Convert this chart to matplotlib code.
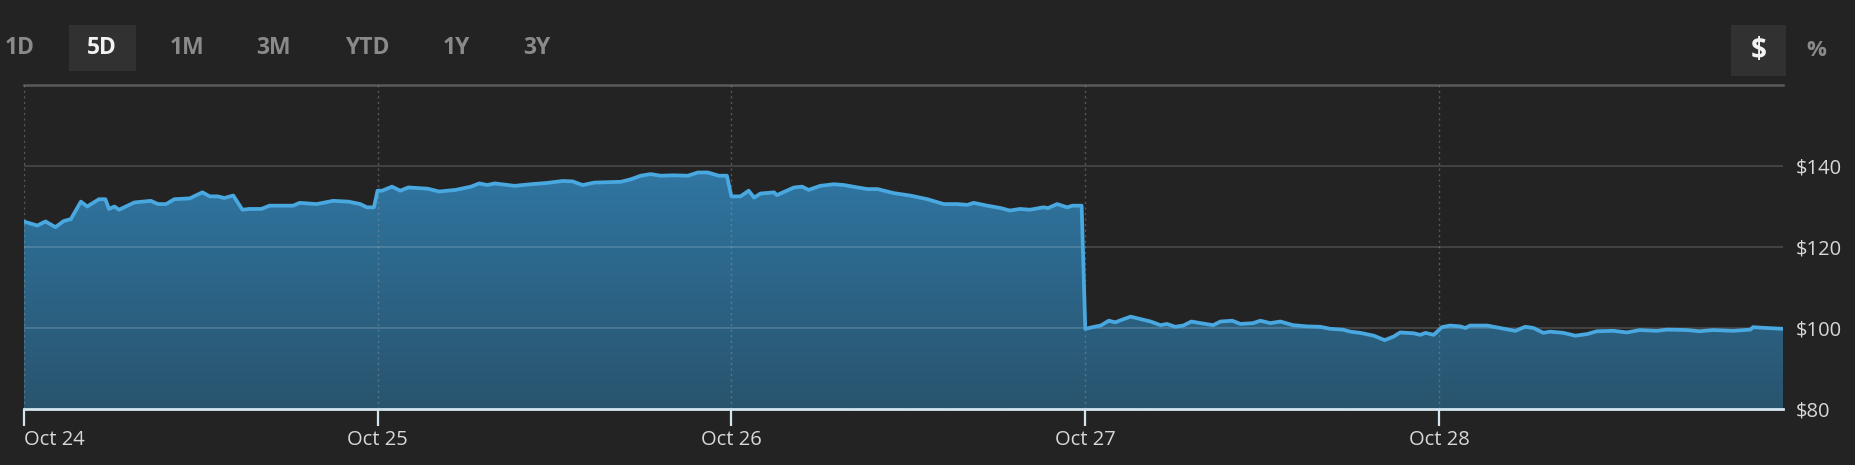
import numpy as np
import matplotlib
matplotlib.use("Agg")
import matplotlib.pyplot as plt
from matplotlib.patches import Rectangle
from matplotlib.colors import LinearSegmentedColormap

# ---------------- data ----------------
day_labels = ["Oct 24", "Oct 25", "Oct 26", "Oct 27", "Oct 28"]
session_minutes = 390
y_ticks = [80, 100, 120, 140]
range_buttons = ["1D", "5D", "1M", "3M", "YTD", "1Y", "3Y"]
selected_range = "5D"

oct24_min = [0, 15, 24, 35, 44, 52, 63, 70, 83, 90, 94, 100, 105, 122, 140, 148, 157, 166, 183, 197,
             205, 214, 221, 231, 241, 249, 262, 271, 297, 304, 323, 341, 358, 371, 378, 386]
oct24_px = [126.3, 125.3, 126.3, 124.9, 126.4, 126.9, 131.2, 130.0, 131.8, 131.8, 129.4, 130.0, 129.2,
            131.0, 131.4, 130.6, 130.6, 131.8, 132.0, 133.5, 132.5, 132.5, 132.1, 132.7, 129.2, 129.4,
            129.4, 130.2, 130.2, 130.9, 130.6, 131.4, 131.2, 130.6, 129.8, 129.8]

oct25_min = [0, 5, 16, 25, 34, 55, 68, 86, 103, 112, 121, 129, 151, 169, 186, 204, 215, 226, 239, 268,
             279, 290, 301, 312, 326, 342, 353, 364, 370, 376, 385]
oct25_px = [133.9, 133.9, 134.9, 133.9, 134.7, 134.4, 133.7, 134.1, 134.9, 135.7, 135.3, 135.7, 135.1,
            135.5, 135.8, 136.3, 136.2, 135.3, 135.9, 136.1, 136.7, 137.6, 138.0, 137.6, 137.7, 137.6,
            138.4, 138.4, 138.0, 137.6, 137.6]

oct26_min = [0, 10, 19, 25, 32, 47, 50, 57, 69, 78, 85, 98, 113, 124, 139, 150, 161, 179, 197, 216,
             234, 249, 260, 267, 282, 297, 307, 318, 329, 344, 349, 359, 370, 376, 386]
oct26_px = [132.5, 132.5, 133.9, 132.2, 133.2, 133.5, 132.8, 133.5, 134.7, 134.9, 134.1, 135.1, 135.5,
            135.3, 134.7, 134.3, 134.3, 133.3, 132.7, 131.8, 130.6, 130.6, 130.4, 130.9, 130.2, 129.6,
            129.0, 129.4, 129.2, 129.8, 129.6, 130.6, 129.8, 130.2, 130.2]

oct27_min = [0, 8, 17, 26, 33, 40, 50, 61, 72, 83, 90, 99, 108, 117, 127, 141, 149, 162, 171, 185,
             193, 204, 215, 229, 244, 259, 270, 284, 292, 303, 318, 330, 340, 347, 362, 369, 375, 384]
oct27_px = [99.8, 100.2, 100.6, 101.8, 101.4, 102.0, 102.8, 102.2, 101.6, 100.7, 101.0, 100.3, 100.6,
            101.6, 101.2, 100.7, 101.6, 101.8, 101.0, 101.2, 101.8, 101.2, 101.6, 100.7, 100.4, 100.3,
            99.8, 99.6, 99.1, 98.8, 98.1, 97.0, 97.9, 98.9, 98.7, 98.3, 98.8, 98.3]

oct28_min = [3, 12, 23, 29, 34, 53, 67, 84, 95, 104, 115, 122, 137, 150, 163, 174, 192, 207, 221, 240,
             251, 273, 287, 302, 324, 343, 346, 361, 379]
oct28_px = [100.2, 100.6, 100.4, 100.0, 100.6, 100.6, 100.0, 99.3, 100.3, 100.0, 98.8, 99.1, 98.8, 98.1,
            98.5, 99.2, 99.3, 98.9, 99.5, 99.3, 99.6, 99.5, 99.2, 99.5, 99.3, 99.6, 100.2, 100.0, 99.8]

days_min = [oct24_min, oct25_min, oct26_min, oct27_min, oct28_min]
days_px = [oct24_px, oct25_px, oct26_px, oct27_px, oct28_px]

t = np.concatenate([i + np.array(m) / session_minutes for i, m in enumerate(days_min)])
price = np.concatenate([np.array(p) for p in days_px])

# ---------------- style ----------------
BG = "#232323"
W, H = 1855, 465
plt.rcParams["font.family"] = ["Open Sans", "DejaVu Sans"]

fig = plt.figure(figsize=(W / 100, H / 100), dpi=100, facecolor=BG)

def fx(px):
    return px / W

def fy(py):
    return 1 - py / H

ax_l, ax_r, ax_t, ax_b = 23.7, 1783, 85, 409
ax = fig.add_axes([fx(ax_l), fy(ax_b), fx(ax_r - ax_l), (ax_b - ax_t) / H])
ax.set_facecolor(BG)

ymin, ymax = 80, 160
xmax = t[-1]
ax.set_xlim(0, xmax)
ax.set_ylim(ymin, ymax)

# gradient fill
cmap = LinearSegmentedColormap.from_list("g", ["#29546e", "#2d6a90", "#3285b8"])
grad = np.linspace(0, 1, 256).reshape(-1, 1)
poly = ax.fill_between(t, price, ymin, facecolor="none", edgecolor="none")
im = ax.imshow(grad, extent=[0, xmax, ymin, ymax], origin="lower", aspect="auto",
               cmap=cmap, zorder=1, interpolation="bilinear")
im.set_clip_path(poly.get_paths()[0], transform=ax.transData)

# grid
for yv in [100, 120, 140]:
    ax.axhline(yv, color="white", alpha=0.16, lw=1.3, zorder=2)
ax.axhline(160, color="#5a5a5a", lw=1.8, zorder=2, clip_on=False)
for i in range(len(day_labels)):
    ax.axvline(i, color="#9a9a9a", alpha=0.45, lw=1.0, ls=(0, (1.5, 2.5)), zorder=2)

# price line
ax.plot(t, price, color="#4aa8e0", lw=2.7, zorder=3, solid_joinstyle="round")

# bottom axis
ax.axhline(ymin, color="#d3e6f0", lw=2.0, zorder=4, clip_on=False)
for s in ax.spines.values():
    s.set_visible(False)

ax.set_xticks(range(len(day_labels)))
ax.set_xticklabels(day_labels)
ax.tick_params(axis="x", direction="out", length=12, width=1.6, color="#d3e6f0",
               labelcolor="#d8d8d8", labelsize=14.5, pad=3)
ax.get_xticklabels()[0].set_ha("left")

ax.yaxis.tick_right()
ax.set_yticks(y_ticks)
ax.set_yticklabels([f"${v}" for v in y_ticks])
ax.tick_params(axis="y", length=0, labelcolor="#d8d8d8", labelsize=14.5, pad=9)

# range buttons
btn_x = [19.8, 102, 186.6, 273.5, 367.6, 456.5, 536.4]
fig.patches.append(Rectangle((fx(69), fy(70.7)), fx(66.6), 45.9 / H, transform=fig.transFigure,
                             facecolor="#313131", edgecolor="none"))
for lab, xp in zip(range_buttons, btn_x):
    sel = lab == selected_range
    fig.text(fx(xp), fy(48), lab, ha="center", va="center", fontsize=16.5, fontweight="bold",
             color="#f2f2f2" if sel else "#8a8a8a")

fig.patches.append(Rectangle((fx(1731), fy(76)), fx(55), 51 / H, transform=fig.transFigure,
                             facecolor="#313131", edgecolor="none"))
fig.text(fx(1759), fy(50), "$", ha="center", va="center", fontsize=20, fontweight="bold", color="#f2f2f2")
fig.text(fx(1816), fy(51), "%", ha="center", va="center", fontsize=16, fontweight="bold", color="#8a8a8a")

fig.savefig("out.png", dpi=100, facecolor=BG)
